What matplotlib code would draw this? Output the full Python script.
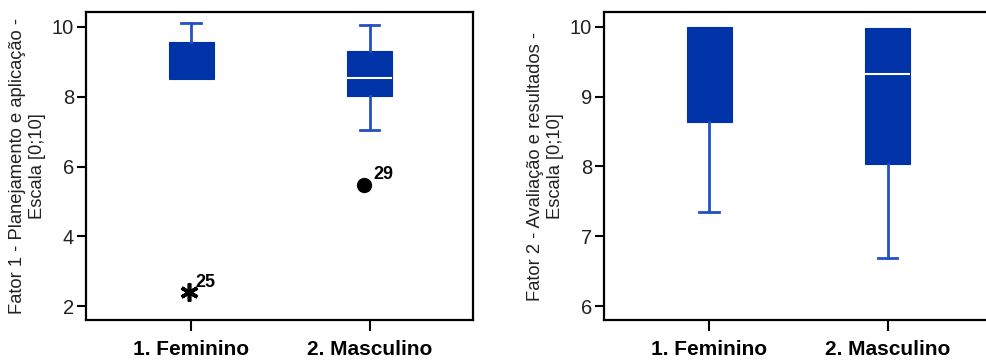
import matplotlib
matplotlib.use("Agg")
import matplotlib.pyplot as plt

# data
grupos = ['1. Feminino', '2. Masculino']

f1_whislo = [8.50, 7.05]
f1_q1 = [8.50, 8.03]
f1_med = [8.50, 8.55]
f1_q3 = [9.56, 9.31]
f1_whishi = [10.10, 10.05]
f1_out_val = [2.40, 5.48]
f1_out_id = ['25', '29']
f1_out_tipo = ['extremo', 'outlier']

f2_whislo = [7.35, 6.69]
f2_q1 = [8.64, 8.03]
f2_med = [10.0, 9.32]
f2_q3 = [10.0, 9.98]
f2_whishi = [10.0, 9.98]

ylabel1 = 'Fator 1 - Planejamento e aplicação -\nEscala [0;10]'
ylabel2 = 'Fator 2 - Avaliação e resultados -\nEscala [0;10]'

azul = '#0033a8'
azul_linha = '#2350c4'

plt.rcParams['font.family'] = ['Liberation Sans', 'DejaVu Sans']


def stats(whislo, q1, med, q3, whishi):
    return [dict(whislo=whislo[i], q1=q1[i], med=med[i], q3=q3[i],
                 whishi=whishi[i], fliers=[], label=grupos[i])
            for i in range(len(grupos))]


def caixas(ax, st, ylim, yticks, ylabel):
    b = ax.bxp(st, positions=[1, 2], widths=0.253, capwidths=0.11,
               patch_artist=True, showfliers=False,
               boxprops=dict(facecolor=azul, edgecolor=azul, linewidth=0.8),
               whiskerprops=dict(color=azul_linha, linewidth=2),
               capprops=dict(color=azul_linha, linewidth=2),
               medianprops=dict(color='white', linewidth=1.5))
    # median / caps hidden when they sit on a quartile edge
    for i, s in enumerate(st):
        if s['med'] in (s['q1'], s['q3']):
            b['medians'][i].set_visible(False)
        if s['whislo'] == s['q1']:
            b['caps'][2 * i].set_visible(False)
        if s['whishi'] == s['q3']:
            b['caps'][2 * i + 1].set_visible(False)
    ax.set_xlim(0.41, 2.58)
    ax.set_ylim(*ylim)
    ax.set_yticks(yticks)
    ax.set_xticks([1, 2])
    ax.set_xticklabels(grupos, fontsize=15, fontweight='bold')
    ax.tick_params(axis='y', labelsize=14.5, length=6.5, width=1.5, pad=2,
                   labelcolor='#222222')
    ax.tick_params(axis='x', length=8, width=1.5, pad=6.5)
    for sp in ax.spines.values():
        sp.set_linewidth(1.6)
    ax.set_ylabel(ylabel, fontsize=13.2, color='#222222', va='center')
    ax.yaxis.set_label_coords(-0.151, 0.5)


fig = plt.figure(figsize=(9.86, 3.6), dpi=100)
ax1 = fig.add_axes([0.0872, 0.1111, 0.3925, 0.8556])
ax2 = fig.add_axes([0.6126, 0.1111, 0.3925, 0.8556])

caixas(ax1, stats(f1_whislo, f1_q1, f1_med, f1_q3, f1_whishi),
       (1.6, 10.43), [2, 4, 6, 8, 10], ylabel1)
caixas(ax2, stats(f2_whislo, f2_q1, f2_med, f2_q3, f2_whishi),
       (5.8, 10.21), [6, 7, 8, 9, 10], ylabel2)

# outliers of factor 1
for i, (v, rot, tipo) in enumerate(zip(f1_out_val, f1_out_id, f1_out_tipo)):
    x = i + 1 - 0.015
    if tipo == 'extremo':
        ax1.plot(x, v, marker=(6, 2, 0), markersize=13, color='black',
                 markeredgewidth=2.6, linestyle='none')
    else:
        ax1.plot(x - 0.015, v, marker='o', markersize=10, color='black',
                 linestyle='none')
    ax1.annotate(rot, (x, v), xytext=(5, 4), textcoords='offset points',
                 fontsize=13, fontweight='bold')

fig.savefig('out.png', dpi=100)
